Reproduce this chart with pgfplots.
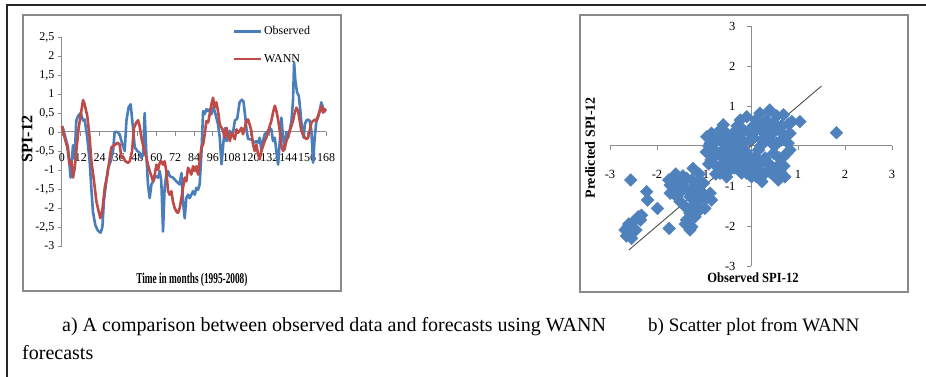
\documentclass[border=0pt]{standalone}
\usepackage{pgfplots}
\pgfplotsset{compat=1.18}
\usepackage{fontspec}
\setmainfont{Liberation Serif}
\usepackage{graphicx}
\definecolor{obsblue}{HTML}{4A7EBB}
\definecolor{wannred}{HTML}{BE4B48}
\definecolor{scblue}{HTML}{4F81BD}
\definecolor{axgray}{HTML}{8C8C8C}
\definecolor{boxgray}{HTML}{8A8A8A}
\begin{document}
\begin{tikzpicture}[x=1pt,y=1pt]
\path[use as bounding box] (0,0) rectangle (926,377);
\draw[line width=1.5pt, color=black!85] (7,0) -- (7,372) -- (926,372);
\draw[line width=1.4pt, color=boxgray] (23,362) rectangle (341,86);
\draw[line width=1.4pt, color=boxgray] (580,362) rectangle (908,85);
\node[anchor=base west, font=\rmfamily\fontsize{20}{20}\selectfont, inner sep=0pt] at (62,45) {a) A comparison between observed data and forecasts using WANN};
\node[anchor=base west, font=\rmfamily\fontsize{19}{20}\selectfont, inner sep=0pt] at (648,45) {b) Scatter plot from WANN};
\node[anchor=base west, font=\rmfamily\fontsize{20}{20}\selectfont, inner sep=0pt] at (22,17) {forecasts};

\begin{axis}[
  at={(62pt,131pt)}, anchor=south west,
  scale only axis, width=264pt, height=209pt,
  xmin=0, xmax=168, ymin=-3, ymax=2.5,
  axis x line=middle, axis y line=left,
  axis line style={-, draw=axgray, line width=1pt},
  hide obscured x ticks=false, hide obscured y ticks=false,
  xtick={0,12,...,168}, ytick={-3,-2.5,...,2.5},
  yticklabels={-3,{-2,5},-2,{-1,5},-1,{-0,5},0,{0,5},1,{1,5},2,{2,5}},
  tick align=outside, tick style={draw=axgray, line width=0.8pt}, major tick length=4pt,
  tick label style={font=\fontsize{12}{12}\selectfont},
  xticklabel style={yshift=-14pt},
  yticklabel style={xshift=0pt},
  /pgf/number format/assume math mode=true,
  every axis x label/.style={at={(axis description cs:0.492,-0.163)}, anchor=center},
  every axis y label/.style={at={(axis description cs:-0.132,0.512)}, anchor=center, rotate=90},
  xlabel={\scalebox{0.62}[1]{\fontsize{15}{15}\selectfont\bfseries Time in months (1995-2008)}},
  ylabel={\fontsize{16}{16}\selectfont\bfseries SPI-12},
  clip=false,
  legend style={draw=none, fill=none, at={(axis description cs:0.645,1.06)}, anchor=north west,
    font=\fontsize{12}{12}\selectfont, row sep=14pt, inner sep=0pt},
  legend cell align=left,
  legend image code/.code={\draw[#1] (0pt,0pt) -- (27pt,0pt);},
]
\addplot[obsblue, line width=2.6pt, line join=round, no marks] coordinates {
(0,0.15)(0.6,0.1)(3.8,-0.4)(5.5,-1.2)(7,-0.35)(8,-0.7)(9.1,0.3)(10.2,0.42)(11.9,0.5)(13.4,0.3)(14.4,0.33)(16.1,-0.15)(17.6,-0.77)(18.7,-1.5)(19.7,-2.1)(21.2,-2.45)(22.9,-2.6)(24.6,-2.65)(25.7,-2.5)(26.7,-1.8)(28.2,-1.3)(29.3,-0.95)(31,-0.77)(32.5,-0.5)(33.5,0)(35.2,0)(36.7,-0.06)(38.2,-0.3)(39.9,-0.5)(41,0.3)(42.4,0.65)(43.7,0.73)(45.2,0.1)(46.3,-0.4)(47.9,-0.5)(49.4,-0.55)(50.5,-0.68)(51.6,-0.6)(52.6,0.5)(53.7,-0.6)(54.7,-1.38)(55.8,-1.74)(56.9,-1.38)(58,-1.3)(59.4,-1.16)(61.1,-1.2)(62.2,-1.03)(63.2,-1.3)(64.3,-2.62)(65.3,-1.47)(66.4,-1.12)(67.5,-1.03)(68.5,-1.16)(70.6,-1.2)(72.8,-1.3)(74.9,-1.38)(76,-1.08)(77,-1.83)(78.1,-2.27)(79.1,-1.74)(80.2,-1.65)(81.3,-1.74)(82.3,-1.65)(83.4,-1.56)(84.5,-1.65)(85.5,-1.47)(86.6,-1.52)(87.6,-1.38)(88.7,-0.6)(89.8,0.55)(90.8,0.47)(91.9,0.6)(93,0.55)(94,0.6)(95.1,0.47)(96.1,0.65)(97.2,0.55)(98.2,0.38)(99.3,0.2)(100.4,-0.15)(101.5,-0.85)(102.6,-0.33)(103.6,0.1)(104.7,-0.24)(105.8,-0.06)(106.8,0.03)(107.9,-0.1)(109,0.03)(110,0.3)(111.5,0.35)(113,0.78)(114.5,0.85)(115.5,0.8)(116.5,0.45)(117.5,0.03)(118.4,-0.18)(120.5,-0.2)(122.6,-0.28)(123.7,-0.24)(124.8,-0.28)(125.8,-0.15)(126.9,-0.5)(127.9,-0.24)(129,-0.06)(131.1,0.03)(132.2,0.1)(133.2,0.07)(134.3,-0.24)(135.4,-0.15)(136.4,-0.5)(137.5,-0.86)(138.6,-0.24)(139.6,0.38)(140.7,-0.15)(141.7,-0.46)(142.8,0)(143.9,-0.15)(144.9,0.03)(146,0.29)(147,0.82)(147.7,1.83)(148.5,1.35)(149.6,1.04)(150.7,0.95)(151.7,0.55)(152.8,0.03)(153.8,-0.15)(154.5,0.2)(155.5,0.3)(156.6,0.33)(157.6,0.29)(158.7,0.03)(159.8,-0.81)(160.8,-0.15)(161.9,0.29)(162.9,0.38)(164,0.55)(165,0.78)(166.1,0.64)(167.2,0.51)
};
\addlegendentry{Observed}
\addplot[wannred, line width=2.6pt, line join=round, no marks] coordinates {
(0,0.16)(1.7,-0.15)(3.4,-0.41)(4.9,-0.86)(6,-0.77)(7,-1.2)(8.1,-0.94)(9.1,-0.5)(10.6,0.11)(12.3,0.55)(13.4,0.84)(14.4,0.73)(16.1,0.42)(17.6,-0.15)(18.7,-0.77)(20.4,-1.3)(21.9,-1.83)(23.4,-2.1)(24.4,-2.27)(25.7,-2.05)(27.2,-1.47)(28.9,-1.12)(30.4,-0.68)(31.4,-0.41)(32.5,-0.37)(34,-0.33)(35.2,-0.28)(36.7,-0.33)(37.8,-0.68)(38.8,-0.64)(40.3,-0.77)(42,-0.81)(43.1,-0.77)(44.6,-0.5)(45.8,0.11)(47.3,0.25)(48.4,0.31)(49.4,0.16)(50.5,-0.15)(52.2,-0.46)(53.7,-0.68)(54.7,-0.86)(55.8,-1.03)(56.9,-1.16)(58,-1.3)(59,-1.12)(60.1,-0.86)(61.1,-1.0)(62.2,-0.81)(63.2,-0.77)(64.3,-0.86)(65.3,-0.77)(66.4,-1.03)(67.5,-1.56)(68.5,-1.65)(69.6,-1.56)(70.6,-1.83)(71.7,-2.0)(72.8,-2.09)(73.8,-2.13)(74.9,-2.0)(76,-1.74)(77,-1.47)(78.1,-1.2)(79.1,-1.3)(80.2,-0.94)(81.3,-1.03)(82.3,-1.12)(83.4,-0.9)(84.5,-1.03)(85.5,-0.9)(86.6,-1.12)(87.6,-0.77)(88.7,-0.41)(89.8,-0.33)(90.8,-0.06)(91.9,0.29)(93,0.25)(94,0.47)(95.1,0.73)(96.1,0.9)(97.2,0.64)(98.2,0.78)(99.3,0.55)(100.4,0.2)(101.5,0.11)(102.5,0.03)(103.6,-0.15)(104.7,0.11)(105.7,-0.06)(106.8,-0.24)(107.9,-0.02)(108.9,-0.1)(110,-0.19)(111,0.07)(112.1,-0.02)(113.1,0.03)(114.2,0.11)(115.2,-0.06)(116.3,0.11)(117.3,0.29)(118.4,0.33)(119.4,0.2)(120.5,0.03)(121.6,-0.33)(122.6,-0.5)(123.7,-0.33)(124.8,-0.59)(125.8,-0.72)(126.9,-0.5)(127.9,-0.37)(129,-0.24)(130,-0.15)(131.1,-0.02)(132.2,0.16)(133.2,0.29)(134.3,0.51)(135.4,0.69)(136.4,0.56)(137.5,0.33)(138.6,0.03)(139.6,-0.37)(140.7,-0.5)(141.7,-0.41)(142.8,-0.24)(143.9,-0.11)(144.9,0.03)(146,0.16)(147,0.29)(148.1,0.51)(149.1,0.64)(150.2,0.56)(151.3,0.29)(152.3,0.03)(153.4,-0.06)(154.5,-0.15)(155.5,-0.19)(156.6,-0.15)(157.6,0.03)(158.7,0.25)(159.8,0.29)(160.8,0.33)(161.9,0.29)(162.9,0.42)(164,0.55)(165,0.69)(166.1,0.51)(167.2,0.6)(168,0.55)
};
\addlegendentry{WANN}
\end{axis}

\begin{axis}[
  at={(610pt,111pt)}, anchor=south west,
  scale only axis, width=282pt, height=240pt,
  xmin=-3, xmax=3, ymin=-3, ymax=3,
  axis lines=middle,
  axis line style={-, draw=axgray, line width=1pt},
  hide obscured x ticks=false, hide obscured y ticks=false,
  xtick={-3,-2,...,3}, ytick={-3,-2,...,3},
  tick align=outside, tick style={draw=axgray, line width=0.8pt}, major tick length=4pt,
  tick label style={font=\fontsize{12.5}{12.5}\selectfont},
  xticklabel style={yshift=-17pt},
  yticklabel style={xshift=-8pt},
  /pgf/number format/assume math mode=true,
  every axis x label/.style={at={(axis description cs:0.507,-0.05)}, anchor=center},
  every axis y label/.style={at={(axis description cs:-0.071,0.492)}, anchor=center, rotate=90},
  xlabel={\scalebox{0.9}[1]{\fontsize{14}{14}\selectfont\bfseries Observed SPI-12}},
  ylabel={\fontsize{14}{14}\selectfont\bfseries Predicted SPI-12},
  clip=false,
]
\addplot[only marks, mark=square*, mark size=4.5pt, mark options={rotate=45, fill=scblue, draw=scblue}] table {
x y
-2.56 -0.85
-2.22 -1.14
-2.20 -1.35
-1.99 -1.56
-1.74 -2.06
-2.68 -2.10
-2.57 -2.18
-2.54 -2.31
-2.50 -1.89
-2.40 -1.77
-2.33 -1.73
-2.62 -2.02
-2.60 -1.95
-2.45 -2.10
-2.65 -2.25
-2.35 -1.85
-1.65 -0.85
-1.58 -1.02
-1.72 -0.98
-1.51 -0.89
-1.37 -0.81
-1.23 -0.56
-1.26 -0.85
-1.44 -1.02
-1.72 -1.18
-1.58 -1.27
-1.51 -1.39
-1.40 -1.52
-1.30 -1.27
-1.16 -1.14
-1.09 -1.35
-0.98 -1.56
-0.87 -1.18
-0.84 -1.35
-1.37 -1.85
-1.26 -2.02
-1.19 -1.77
-1.30 -1.68
-1.09 -1.60
-1.01 -0.93
-1.12 -0.89
-1.30 -2.10
-1.40 -1.95
-1.65 -1.10
-1.50 -1.15
-1.45 -0.75
-1.35 -1.10
-1.20 -1.00
-1.10 -0.70
-1.60 -0.70
-1.75 -0.85
-1.20 -1.45
-1.05 -1.15
-0.95 -1.30
-1.25 -1.60
-0.94 0.23
-0.84 0.32
-0.87 0.07
-0.77 -0.10
-0.80 -0.27
-0.73 -0.52
-0.66 -0.68
-0.59 0.53
-0.55 0.15
-0.52 -0.27
-0.45 -0.60
-0.38 0.32
-0.30 0.00
-0.27 -0.43
-0.20 -0.68
-0.16 0.40
-0.09 0.73
-0.02 0.15
-0.06 -0.27
-0.09 -0.68
0.05 -0.52
0.12 0.40
0.19 0.82
0.23 0.15
0.23 -0.89
0.33 0.65
0.40 0.90
0.48 0.57
0.40 0.15
0.48 -0.18
0.37 -0.43
0.55 -0.52
0.58 -0.85
0.72 -0.77
0.76 -0.18
0.79 0.07
0.83 0.32
0.69 0.78
0.87 0.61
1.04 0.61
0.65 0.15
0.16 -0.10
0.09 -0.27
-0.66 0.15
-0.45 0.00
-0.16 -0.10
-0.23 0.65
0.33 0.15
0.55 0.07
0.69 -0.27
0.30 -0.68
0.01 -0.77
-0.38 -0.27
-0.52 -0.77
-0.73 0.15
0.83 -0.10
1.82 0.33
-0.90 -0.45
-0.60 -0.45
0.60 0.40
0.20 0.50
-0.30 0.50
0.00 0.45
-0.95 -0.15
-0.90 0.00
-0.85 -0.35
-0.70 0.35
-0.65 -0.25
-0.60 -0.10
-0.55 0.35
-0.50 -0.45
-0.45 0.20
-0.40 -0.10
-0.35 0.10
-0.30 -0.25
-0.25 0.25
-0.20 -0.40
-0.15 0.10
-0.10 -0.15
-0.05 0.35
0.00 -0.45
0.05 0.20
0.10 0.65
0.15 -0.60
0.20 0.00
0.25 0.35
0.30 -0.30
0.35 0.45
0.40 -0.65
0.45 0.30
0.50 0.00
0.55 0.75
0.60 -0.30
0.65 0.50
0.70 -0.50
0.75 0.25
0.80 0.55
-0.75 -0.70
-0.55 -0.60
-0.35 -0.55
-0.10 -0.55
0.10 -0.75
0.20 -0.45
0.45 -0.70
0.62 -0.65
};
\addplot[no marks, draw=black!70, line width=0.9pt] coordinates {(-2.6,-2.6) (1.5,1.5)};
\end{axis}
\end{tikzpicture}
\end{document}
